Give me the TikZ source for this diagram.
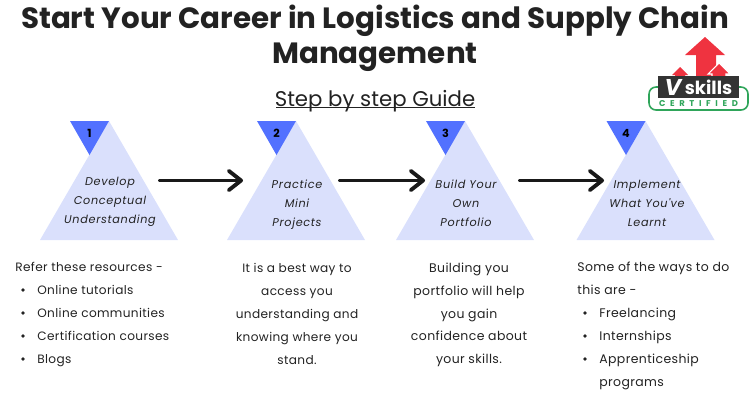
\documentclass[tikz,border=0pt]{standalone}
\usepackage{fontspec}
\setmainfont{Poppins}
\newfontfamily\bodyfont[LetterSpace=3]{Poppins}
\newfontfamily\stepfont[LetterSpace=6]{Poppins}
\newfontfamily\certfont[LetterSpace=55]{Poppins}
\usetikzlibrary{arrows.meta}
\definecolor{triangleblue}{HTML}{DAE0FC}
\definecolor{cornerblue}{HTML}{5271FF}
\definecolor{inkgray}{HTML}{222222}
\definecolor{logored}{HTML}{EF3340}
\definecolor{logogreen}{HTML}{2FA55A}
\definecolor{logobox}{HTML}{333333}
\tikzset{
	steplabel/.style={font=\stepfont\fontsize{6.4}{10.8}\selectfont\itshape,text=inkgray,align=center,inner sep=0pt},
	bodytext/.style={font=\bodyfont\fontsize{6.9}{13}\selectfont,text=inkgray,inner sep=0pt},
	sidetext/.style={font=\bodyfont\fontsize{7.1}{13}\selectfont,text=inkgray,inner sep=0pt},
	stepno/.style={font=\fontsize{6.4}{8}\selectfont\bfseries,text=black,inner sep=0pt},
	steparrow/.style={line width=2.2pt,draw=black!90,-{Straight Barb[length=7pt,width=11pt,line width=2.2pt,round]},line cap=round},
}
\begin{document}
\begin{tikzpicture}[x=0.02cm,y=-0.02cm]
	\useasboundingbox (0,0) rectangle (750,400);
	% triangles
	\foreach \px/\num in {109/1,296/2,465/3,645.5/4}{
		\fill[triangleblue] (\px,121) -- (\px+69,240) -- (\px-69,240) -- cycle;
		\fill[cornerblue] (\px,121) -- (\px-39,121) -- (\px-19.5,155) -- cycle;
		\node[stepno] (no\num) at (\px-19.5,133) {\num};
	}
	% title
	\node[inner sep=0pt,font=\fontsize{16.7}{20}\selectfont\bfseries,align=center,text=inkgray] (title) at (375,38) {Start Your Career in Logistics and Supply Chain\\Management};
	\node[inner sep=0pt,font=\fontsize{12.1}{15}\selectfont,text=inkgray] (guide) at (375,101) {Step by step Guide};
	\draw[inkgray,line width=0.6pt] (276,107.5) -- (475,107.5);
	% step labels
	\node[steplabel,anchor=base] (stepa) at (110,223) {Develop\\Conceptual\\Understanding};
	\node[steplabel,anchor=base] (stepb) at (297,226) {Practice\\Mini\\Projects};
	\node[steplabel,anchor=base] (stepc) at (466,226) {Build Your\\Own\\Portfolio};
	\node[steplabel,anchor=base] (stepd) at (647,226) {Implement\\What You've\\Learnt};
	% arrows
	\coordinate (a1) at (160,180.5);
	\coordinate (a2) at (243,180.5);
	\coordinate (b1) at (340,180.5);
	\coordinate (b2) at (425,180.5);
	\coordinate (c1) at (520,180.5);
	\coordinate (c2) at (604,180.5);
	\draw[steparrow] (a1) -- (a2);
	\draw[steparrow] (b1) -- (b2);
	\draw[steparrow] (c1) -- (c2);
	% text columns
	\node[bodytext,anchor=base west] (refer) at (15,271) {Refer these resources -};
	\foreach \py/\txt/\nm in {290/Online tutorials/ra,313/Online communities/rb,336/Certification courses/rc,359/Blogs/rd}{
		\fill[inkgray] (23,\py) circle (1.8);
		\node[bodytext,anchor=base west] (\nm) at (37,\py+4) {\txt};
	}
	\node[bodytext,align=center] (colb) at (297,314) {It is a best way to\\access you\\understanding and\\knowing where you\\stand.};
	\node[sidetext,align=center] (colc) at (469,315) {Building you\\portfolio will help\\you gain\\confidence about\\your skills.};
	\node[sidetext,anchor=base west] (some) at (577,271) {Some of the ways to do};
	\node[sidetext,anchor=base west] (this) at (577,294) {this are -};
	\foreach \py/\txt/\nm in {313/Freelancing/da,336/Internships/db,359/Apprenticeship/dc}{
		\fill[inkgray] (585,\py) circle (1.8);
		\node[sidetext,anchor=base west] (\nm) at (599,\py+4) {\txt};
	}
	\node[sidetext,anchor=base west] (dd) at (599,386) {programs};
	% logo
	\fill[logored] (705,37) -- (725,55) -- (716,55) -- (716,80) -- (696,80) -- (696,55) -- (685,55) -- cycle;
	\fill[logored] (680,67) -- (688,75) -- (685,75) -- (685,80) -- (675,80) -- (675,75) -- (672,75) -- cycle;
	\draw[white,line width=0.6pt,fill=logored] (719,63) -- (730,74) -- (726,74) -- (726,80) -- (712,80) -- (712,74) -- (708,74) -- cycle;
	\draw[logogreen,line width=0.9pt,rounded corners=4pt] (658,87) -- (649,87) -- (649,110) -- (748,110) -- (748,87) -- (739,87);
	\fill[logobox] (658,76) rectangle (739,98);
	\node[inner sep=0pt,text=white,font=\fontsize{13}{13}\selectfont\bfseries\itshape] (logov) at (673,87) {V};
	\node[inner sep=0pt,text=white,font=\fontsize{10.3}{11}\selectfont\bfseries] (logoskills) at (708.5,87) {skills};
	\node[inner sep=0pt,text=logogreen,font=\certfont\fontsize{4.8}{6}\selectfont\bfseries] (logocert) at (698.5,104) {CERTIFIED};
\end{tikzpicture}
\end{document}
